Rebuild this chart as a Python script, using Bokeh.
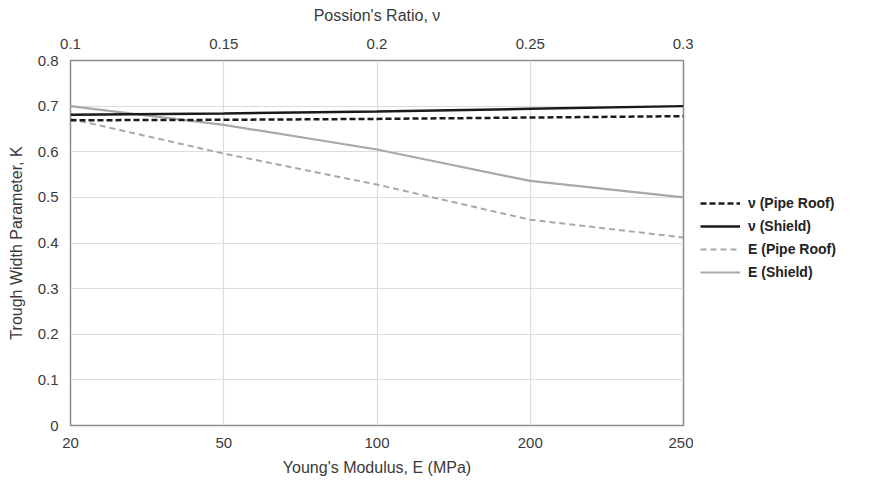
from bokeh.plotting import figure
from bokeh.models import Range1d, LinearAxis, FixedTicker, Legend, LegendItem
from bokeh.layouts import row
from bokeh.embed import file_html
from bokeh.resources import INLINE

# categorical bottom axis (equally spaced)
E_labels = ["20", "50", "100", "200", "250"]
E_pos = [0, 1, 2, 3, 4]
E_pipe_roof = [0.672, 0.596, 0.528, 0.451, 0.412]
E_shield = [0.700, 0.659, 0.605, 0.536, 0.500]

nu_vals = [0.1, 0.15, 0.2, 0.25, 0.3]
nu_pipe_roof = [0.669, 0.670, 0.672, 0.675, 0.678]
nu_shield = [0.681, 0.684, 0.688, 0.694, 0.700]

series_labels = ["ν (Pipe Roof)", "ν (Shield)", "E (Pipe Roof)", "E (Shield)"]

FONT = "Liberation Sans"
TXT = "#3a3a3a"
BLACK = "#1a1a1a"
GREY = "#a8a8a8"

p = figure(frame_width=613, frame_height=365, output_backend="svg",
           toolbar_location=None, x_range=Range1d(0, 4), y_range=Range1d(0, 0.8),
           min_border_left=70, min_border_top=60, min_border_right=10,
           min_border_bottom=50)
p.extra_x_ranges = {"nu": Range1d(0.1, 0.3)}

p.outline_line_color = "#8c8c8c"
p.outline_line_width = 1.5
p.background_fill_color = "white"
p.border_fill_color = "white"

# bottom axis
xa = p.xaxis[0]
xa.ticker = FixedTicker(ticks=E_pos)
xa.major_label_overrides = {i: s for i, s in zip(E_pos, E_labels)}
xa.axis_label = "Young's Modulus, E (MPa)"

# top axis
ta = LinearAxis(x_range_name="nu", axis_label="Possion's Ratio, ν",
                ticker=FixedTicker(ticks=nu_vals))
ta.major_label_overrides = {0.1: "0.1", 0.15: "0.15", 0.2: "0.2", 0.25: "0.25", 0.3: "0.3"}
p.add_layout(ta, "above")

ya = p.yaxis[0]
ya.ticker = FixedTicker(ticks=[0, 0.1, 0.2, 0.3, 0.4, 0.5, 0.6, 0.7, 0.8])
ya.major_label_overrides = {0: "0"}
ya.axis_label = "Trough Width Parameter, K"

for ax in [xa, ta, ya]:
    ax.axis_line_color = None
    ax.major_tick_line_color = None
    ax.minor_tick_line_color = None
    ax.major_label_text_font = FONT
    ax.major_label_text_font_size = "15px"
    ax.major_label_text_color = TXT
    ax.axis_label_text_font = FONT
    ax.axis_label_text_font_size = "16px"
    ax.axis_label_text_font_style = "normal"
    ax.axis_label_text_color = TXT
    ax.major_label_standoff = 6
ta.axis_label_standoff = 12
xa.axis_label_standoff = 8
ya.axis_label_standoff = 10

p.xgrid.ticker = FixedTicker(ticks=E_pos)
p.ygrid.ticker = FixedTicker(ticks=[0.1, 0.2, 0.3, 0.4, 0.5, 0.6, 0.7])
p.xgrid.grid_line_color = "#dcdcdc"
p.ygrid.grid_line_color = "#dcdcdc"
p.xgrid.grid_line_width = 1.2
p.ygrid.grid_line_width = 1.2

styles = [
    dict(line_color=BLACK, line_width=2.5, line_dash="6 3"),
    dict(line_color=BLACK, line_width=2.5),
    dict(line_color=GREY, line_width=2, line_dash="6 4"),
    dict(line_color=GREY, line_width=2.2),
]

p.line(E_pos, E_pipe_roof, **styles[2])
p.line(E_pos, E_shield, **styles[3])
p.line(nu_vals, nu_pipe_roof, x_range_name="nu", **styles[0])
p.line(nu_vals, nu_shield, x_range_name="nu", **styles[1])

# legend panel as a separate figure (its series drawn outside its visible range)
lg = figure(width=180, height=475, output_backend="svg", toolbar_location=None,
            x_range=Range1d(100, 101), y_range=Range1d(100, 101),
            min_border=0, outline_line_color=None)
lg.axis.visible = False
lg.grid.visible = False
series_x = [nu_vals, nu_vals, E_pos, E_pos]
series_y = [nu_pipe_roof, nu_shield, E_pipe_roof, E_shield]
items = []
for lab, st, sx, sy in zip(series_labels, styles, series_x, series_y):
    r = lg.line(sx, sy, **st)
    items.append(LegendItem(label=lab, renderers=[r]))
legend = Legend(items=items, location=(7, 140))
legend.label_text_font = FONT
legend.label_text_font_size = "14px"
legend.label_text_font_style = "bold"
legend.label_text_color = "#222222"
legend.glyph_width = 40
legend.glyph_height = 20
legend.spacing = 3
legend.label_standoff = 8
legend.padding = 6
legend.margin = 0
legend.border_line_color = None
legend.background_fill_alpha = 0
lg.add_layout(legend, "center")

layout = row(p, lg)
open("out.html", "w").write(file_html(layout, INLINE))
